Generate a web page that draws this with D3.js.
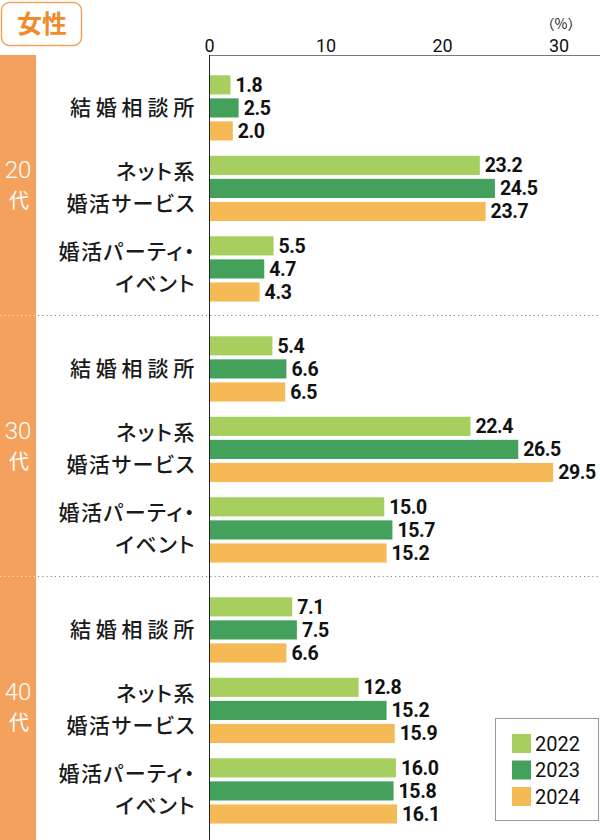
<!DOCTYPE html>
<html><head><meta charset="utf-8">
<script src="https://cdn.jsdelivr.net/npm/d3@7"></script>
<style>
html,body{margin:0;padding:0;background:#fff;}
svg{display:block;}
.jp{font-family:"Noto Sans CJK JP","Noto Sans",sans-serif;}
.num{font-family:Roboto,"DejaVu Sans",sans-serif;}
</style></head>
<body>
<svg id="chart" width="600" height="840"></svg>
<script>
const title = "女性";
const ageGroups = ["20", "30", "40"];
const ageSuffix = "代";
const categories = ["結婚相談所", "ネット系\n婚活サービス", "婚活パーティ・\nイベント"];
const years = ["2022", "2023", "2024"];
// values[age][category][year]
const values20 = [[1.8, 2.5, 2.0], [23.2, 24.5, 23.7], [5.5, 4.7, 4.3]];
const values30 = [[5.4, 6.6, 6.5], [22.4, 26.5, 29.5], [15.0, 15.7, 15.2]];
const values40 = [[7.1, 7.5, 6.6], [12.8, 15.2, 15.9], [16.0, 15.8, 16.1]];
const xTicks = [0, 10, 20, 30];
const unitLabel = "（%）";

const allValues = [values20, values30, values40];
const colors = ["#a6cf5f", "#44a15b", "#f5b955"];

const svg = d3.select("#chart");
const x = d3.scaleLinear().domain([0, 30]).range([209.5, 559]);
const yGroup = d3.scaleBand().domain(ageGroups).range([55, 838]);
const yCat = d3.scaleBand().domain(categories).range([0, yGroup.bandwidth()])
  .paddingInner(0).paddingOuter(0.121).align(0.65);
const ySer = d3.scaleBand().domain(years).range([0, yCat.bandwidth()])
  .paddingInner(0.17).paddingOuter(0.33);

// title box
svg.append("rect").attr("x", 1.5).attr("y", 2.5).attr("width", 80).attr("height", 43)
  .attr("rx", 8).attr("fill", "#fff").attr("stroke", "#f2a65a").attr("stroke-width", 1.5);
svg.append("text").attr("class", "jp").attr("x", 42).attr("y", 33)
  .attr("text-anchor", "middle").attr("font-size", 25).attr("font-weight", 700)
  .attr("fill", "#ef8b2c").text(title);

// orange band
svg.append("rect").attr("x", 0).attr("y", 55).attr("width", 36).attr("height", 785).attr("fill", "#f5a15e");

// top line
svg.append("line").attr("x1", 209.5).attr("x2", 600).attr("y1", 55.5).attr("y2", 55.5)
  .attr("stroke", "#777").attr("stroke-width", 1);

// tick labels
svg.selectAll(".tick").data(xTicks).enter().append("text").attr("class", "num")
  .attr("x", d => x(d)).attr("y", 52).attr("text-anchor", "middle")
  .attr("font-size", 18).attr("fill", "#111").text(d => d);
svg.append("text").attr("class", "jp").attr("x", x(30) + 2).attr("y", 29)
  .attr("text-anchor", "middle").attr("font-size", 14).attr("fill", "#222").text(unitLabel);

// dividers
ageGroups.slice(1).forEach(g => {
  const yy = yGroup(g) - 0.5;
  svg.append("line").attr("x1", 0).attr("x2", 36).attr("y1", yy).attr("y2", yy)
    .attr("stroke", "#fde3cc").attr("stroke-width", 1.2).attr("stroke-dasharray", "1.2,3");
  svg.append("line").attr("x1", 38).attr("x2", 600).attr("y1", yy).attr("y2", yy)
    .attr("stroke", "#888").attr("stroke-width", 1.2).attr("stroke-dasharray", "1.2,3");
});

ageGroups.forEach((g, gi) => {
  const gy = yGroup(g);
  const cy = gy + yGroup.bandwidth() / 2;
  svg.append("text").attr("class", "num").attr("text-anchor", "middle").attr("fill", "#fff")
    .attr("x", 18).attr("y", cy - 7.5).attr("font-size", 24).attr("font-weight", 300).text(g);
  svg.append("text").attr("class", "jp").attr("text-anchor", "middle").attr("fill", "#fff")
    .attr("x", 19).attr("y", cy + 22.5).attr("font-size", 20).attr("font-weight", 400).text(ageSuffix);

  categories.forEach((c, ci) => {
    const cTop = gy + yCat(c);
    const midY = cTop + ySer(years[1]) + ySer.bandwidth() / 2;
    const lines = c.split("\n");
    const t = svg.append("text").attr("class", "jp").attr("text-anchor", "end")
      .attr("font-size", 21).attr("font-weight", 500).attr("fill", "#1a1a1a")
      .style("font-feature-settings", "'palt'");
    if (lines.length === 1) {
      t.append("tspan").attr("x", 199).attr("y", midY + 7.5)
        .attr("letter-spacing", 4.8).text(lines[0]);
    } else {
      t.append("tspan").attr("x", 196).attr("y", midY - 9.5).attr("letter-spacing", 1.5).text(lines[0]);
      t.append("tspan").attr("x", 196).attr("y", midY + 22.5).attr("letter-spacing", 1.5).text(lines[1]);
    }
    years.forEach((yr, yi) => {
      const v = allValues[gi][ci][yi];
      const by = cTop + ySer(yr);
      svg.append("rect").attr("x", x(0)).attr("y", by).attr("width", x(v) - x(0))
        .attr("height", ySer.bandwidth()).attr("fill", colors[yi]);
      svg.append("text").attr("class", "num").attr("x", x(v) + 5)
        .attr("y", by + ySer.bandwidth() / 2 + 7).attr("font-size", 19.5)
        .attr("font-weight", 700).attr("letter-spacing", -0.4).attr("fill", "#111")
        .text(v.toFixed(1));
    });
  });
});

// axis line
svg.append("line").attr("x1", 209.5).attr("x2", 209.5).attr("y1", 55).attr("y2", 840)
  .attr("stroke", "#222").attr("stroke-width", 1);

// legend
const lg = svg.append("g");
lg.append("rect").attr("x", 495.5).attr("y", 718.5).attr("width", 103).attr("height", 102)
  .attr("fill", "#fff").attr("stroke", "#999").attr("stroke-width", 1);
years.forEach((yr, i) => {
  const ly = 734 + i * 26.5;
  lg.append("rect").attr("x", 512).attr("y", ly).attr("width", 19).attr("height", 19).attr("fill", colors[i]);
  lg.append("text").attr("class", "num").attr("x", 535).attr("y", ly + 16.5)
    .attr("font-size", 20).attr("fill", "#111").text(yr);
});
</script>
</body></html>
